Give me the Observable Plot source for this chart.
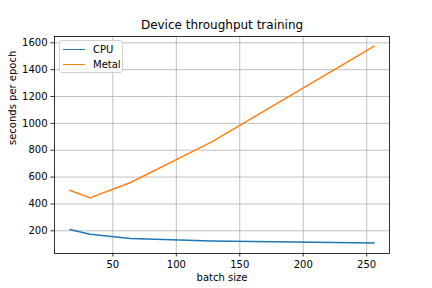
<!DOCTYPE html>
<html>
<head>
<meta charset="utf-8">
<script src="https://cdn.jsdelivr.net/npm/d3@7"></script>
<script src="https://cdn.jsdelivr.net/npm/@observablehq/plot@0.6"></script>
<style>
  html, body { margin: 0; padding: 0; background: #fff; }
  #wrap { position: relative; width: 432px; height: 288px; font-family: "DejaVu Sans", sans-serif; }
  #legend { position: absolute; left: 59px; top: 40px; width: 64px; height: 33px; box-sizing: border-box;
    border: 1px solid #d0d0d0; border-radius: 3px; background: rgba(255,255,255,0.8); font-size: 10px; }
  .item { position: absolute; left: 3px; height: 14px; display: flex; align-items: center; }
  .sw { width: 22px; height: 0; border-top: 1.5px solid; margin-right: 8px; }
</style>
</head>
<body>
<div id="wrap"></div>
<script>
const batchSizes = [16, 32, 64, 128, 256];
const cpuSeconds = [210, 175, 142, 124, 110];
const metalSeconds = [502, 445, 560, 862, 1575];
const seriesNames = ["CPU", "Metal"];
const seriesColors = ["#1f77b4", "#ff7f0e"];
const xTicks = [50, 100, 150, 200, 250];
const yTicks = [200, 400, 600, 800, 1000, 1200, 1400, 1600];

const rows = [];
batchSizes.forEach((b, i) => {
  rows.push({batch: b, seconds: cpuSeconds[i], device: "CPU"});
  rows.push({batch: b, seconds: metalSeconds[i], device: "Metal"});
});

const font = "DejaVu Sans, sans-serif";
const chart = Plot.plot({
  width: 432, height: 288,
  marginLeft: 54, marginRight: 43, marginTop: 36, marginBottom: 35,
  style: {fontFamily: font, fontSize: "10px", background: "white", color: "#000"},
  x: {domain: [4, 268]},
  y: {domain: [31, 1647]},
  color: {domain: seriesNames, range: seriesColors},
  marks: [
    Plot.gridX(xTicks, {stroke: "#b0b0b0", strokeOpacity: 1, strokeWidth: 0.8}),
    Plot.gridY(yTicks, {stroke: "#b0b0b0", strokeOpacity: 1, strokeWidth: 0.8}),
    Plot.line(rows, {x: "batch", y: "seconds", stroke: "device", z: "device", strokeWidth: 1.5}),
    Plot.frame({stroke: "#000", strokeWidth: 0.8}),
    Plot.axisX(xTicks, {tickSize: 3.5, tickPadding: 3.5, fontSize: 10, label: null, strokeWidth: 0.8, tickFormat: d => String(d)}),
    Plot.axisY(yTicks, {tickSize: 3.5, tickPadding: 3.5, fontSize: 10, label: null, strokeWidth: 0.8, tickFormat: d => String(d)}),
    Plot.text(["Device throughput training"], {frameAnchor: "top", dy: -11, fontSize: 12, lineAnchor: "middle", fill: "#000"}),
    Plot.text(["batch size"], {frameAnchor: "bottom", dy: 24, fontSize: 10, lineAnchor: "middle", fill: "#000"}),
    Plot.text(["seconds per epoch"], {frameAnchor: "left", dx: -42, rotate: -90, fontSize: 10, lineAnchor: "middle", fill: "#000"})
  ]
});
const wrap = document.getElementById("wrap");
wrap.appendChild(chart);

const legend = document.createElement("div");
legend.id = "legend";
seriesNames.forEach((name, i) => {
  const item = document.createElement("div");
  item.className = "item";
  item.style.top = (1 + i * 15) + "px";
  const sw = document.createElement("span");
  sw.className = "sw";
  sw.style.borderColor = seriesColors[i];
  const t = document.createElement("span");
  t.textContent = name;
  item.appendChild(sw);
  item.appendChild(t);
  legend.appendChild(item);
});
wrap.appendChild(legend);
</script>
</body>
</html>
